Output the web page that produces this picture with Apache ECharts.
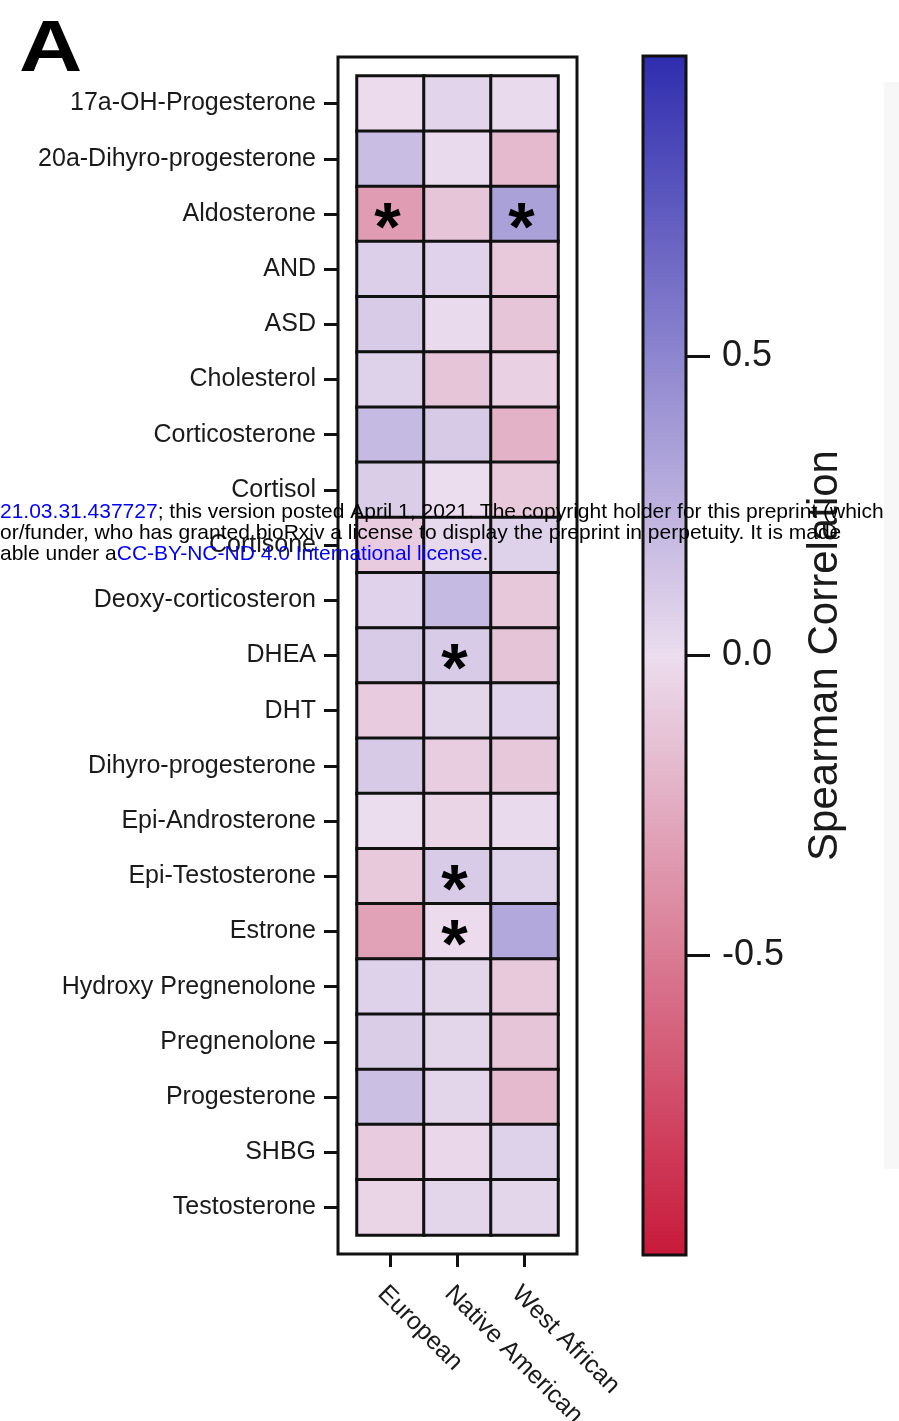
<!DOCTYPE html>
<html>
<head>
<meta charset="utf-8">
<script src="https://cdn.jsdelivr.net/npm/echarts@6/dist/echarts.min.js"></script>
<style>
html,body{margin:0;padding:0;background:#fff;}
#chart{width:899px;height:1421px;}
</style>
</head>
<body>
<div id="chart"></div>
<script>
// ---- data ----
const rows = ['17a-OH-Progesterone','20a-Dihyro-progesterone','Aldosterone','AND','ASD','Cholesterol','Corticosterone','Cortisol','Cortisone','Deoxy-corticosteron','DHEA','DHT','Dihyro-progesterone','Epi-Androsterone','Epi-Testosterone','Estrone','Hydroxy Pregnenolone','Pregnenolone','Progesterone','SHBG','Testosterone'];
const groups = ['European','Native American','West African'];
const european      = [-0.01, 0.18, -0.33, 0.08, 0.10, 0.07, 0.20, 0.09, -0.09, 0.06, 0.10, -0.09, 0.11, 0.00, -0.10, -0.30, 0.07, 0.09, 0.17, -0.09, -0.04];
const nativeAmerican= [0.05, 0.01, -0.12, 0.06, 0.01, -0.12, 0.11, 0.00, 0.02, 0.20, 0.10, 0.04, -0.08, -0.04, 0.10, -0.01, 0.04, 0.04, 0.04, -0.03, 0.04];
const westAfrican   = [0.01, -0.18, 0.34, -0.10, -0.12, -0.06, -0.22, -0.10, 0.07, -0.11, -0.13, 0.06, -0.11, 0.01, 0.07, 0.30, -0.10, -0.12, -0.18, 0.07, 0.04];
const significant = [['Aldosterone','European'],['Aldosterone','West African'],['DHEA','Native American'],['Epi-Testosterone','Native American'],['Estrone','Native American']];
const colorbarTicks = [-0.5, 0, 0.5];
const colorbarTitle = 'Spearman Correlation';
const panelLetter = 'A';

// ---- build ----
const seriesByGroup = [european, nativeAmerican, westAfrican];
const sigSet = new Set(significant.map(s => s[0] + '|' + s[1]));
const heatData = [];
groups.forEach((g, gi) => {
  rows.forEach((r, ri) => {
    heatData.push([gi, ri, seriesByGroup[gi][ri]]);
  });
});
const FONT = "'Liberation Sans', Arial, sans-serif";
const TXT = '#1a1a1a';
const WM = '21px ' + FONT;

const chart = echarts.init(document.getElementById('chart'), null, {renderer: 'canvas'});
chart.setOption({
  backgroundColor: '#fff',
  animation: false,
  grid: [
    {left: 357, top: 76, width: 201, height: 1159, containLabel: false, outerBoundsMode: 'none'},
    {left: 643, top: 56, width: 43, height: 1199, show: true, borderColor: '#111', borderWidth: 3, backgroundColor: 'transparent', z: 6, outerBoundsMode: 'none'},
    {left: 338, top: 57, width: 239, height: 1197, show: true, borderColor: '#111', borderWidth: 3, backgroundColor: '#fff', z: 0, outerBoundsMode: 'none'},
    {left: 686, top: 56, width: 100, height: 1199, show: false, outerBoundsMode: 'none'}
  ],
  xAxis: [
    {type: 'category', gridIndex: 0, data: groups, position: 'bottom', offset: 19,
     axisLine: {show: false}, splitLine: {show: false}, splitArea: {show: false},
     axisTick: {show: true, alignWithLabel: true, length: 13, lineStyle: {color: '#111', width: 3}},
     axisLabel: {rotate: -45, interval: 0, fontSize: 25, fontFamily: FONT, color: TXT, margin: 27, align: 'left', verticalAlign: 'top'}},
    {type: 'value', gridIndex: 1, show: false},
    {type: 'value', gridIndex: 2, show: false},
    {type: 'value', gridIndex: 3, show: false}
  ],
  yAxis: [
    {type: 'category', gridIndex: 0, data: rows, inverse: true, offset: 19,
     axisLine: {show: false}, splitLine: {show: false}, splitArea: {show: false},
     axisTick: {show: true, alignWithLabel: true, length: 14, lineStyle: {color: '#111', width: 3}},
     axisLabel: {interval: 0, fontSize: 25, fontFamily: FONT, color: TXT, margin: 22}},
    {type: 'value', gridIndex: 1, min: -1, max: 1, position: 'right',
     axisLine: {show: false}, splitLine: {show: false}, axisTick: {show: false}, axisLabel: {show: false},
     name: colorbarTitle, nameLocation: 'middle', nameRotate: 90, nameGap: 118,
     nameTextStyle: {fontSize: 42, fontFamily: FONT, color: TXT}},
    {type: 'value', gridIndex: 2, show: false},
    {type: 'value', gridIndex: 3, min: -1, max: 1, interval: 0.5, position: 'left', z: 7,
     axisLine: {show: false}, splitLine: {show: false},
     axisTick: {show: true, inside: true, length: 24, lineStyle: {color: '#111', width: 3}, customValues: colorbarTicks},
     axisLabel: {inside: true, fontSize: 36, fontFamily: FONT, color: TXT, margin: 36, customValues: colorbarTicks,
                 formatter: v => Number(v).toFixed(1)}}
  ],
  visualMap: {
    type: 'continuous', min: -1, max: 1, seriesIndex: 0, show: true,
    orient: 'vertical', left: 643, top: 56, itemWidth: 43, itemHeight: 1199,
    padding: 0, calculable: false, hoverLink: false, text: null, showLabel: false,
    inRange: {color: ['#C8193A', '#EBDDEE', '#2F2DAF']},
    textStyle: {color: 'transparent'}
  },
  series: [{
    type: 'heatmap', xAxisIndex: 0, yAxisIndex: 0, data: heatData,
    itemStyle: {borderColor: '#111', borderWidth: 3},
    emphasis: {disabled: true},
    label: {
      show: true,
      formatter: p => sigSet.has(rows[p.value[1]] + '|' + groups[p.value[0]]) ? '*' : '',
      fontSize: 68, fontWeight: 'bold', fontFamily: FONT, color: '#000',
      offset: [-3, 17]
    }
  }],
  graphic: [
    {type: 'rect', shape: {x: 884, y: 82, width: 15, height: 1087}, style: {fill: '#f7f7f7'}, z: -10, silent: true},
    {type: 'text', x: 19, y: 14, scaleX: 1.2, style: {text: panelLetter, font: "bold 73px " + FONT, fill: '#000', verticalAlign: 'top'}, z: 100},
    {type: 'group', z: 100, children: [
      {type: 'text', x: 0, y: 512, style: {text: '{b|21.03.31.437727}; this version posted April 1, 2021. The copyright holder for this preprint (which', font: WM, fill: '#000', verticalAlign: 'middle', rich: {b: {fill: '#0000ff', font: WM}}}, z: 100},
      {type: 'text', x: 0, y: 533, style: {text: 'or/funder, who has granted bioRxiv a license to display the preprint in perpetuity. It is made', font: WM, fill: '#000', verticalAlign: 'middle'}, z: 100},
      {type: 'text', x: 0, y: 554, style: {text: 'able under a{b|CC-BY-NC-ND 4.0 International license}.', font: WM, fill: '#000', verticalAlign: 'middle', rich: {b: {fill: '#0000ff', font: WM}}}, z: 100}
    ]}
  ]
});
</script>
</body>
</html>
